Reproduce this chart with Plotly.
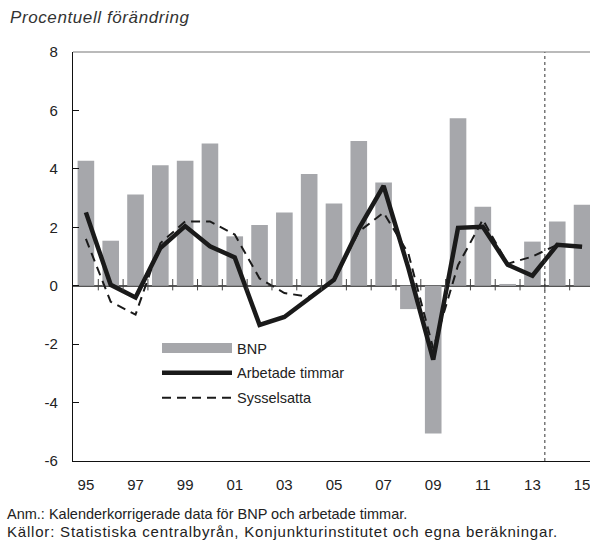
import plotly.graph_objects as go

years = list(range(1995, 2016))
tick_years = [1995, 1997, 1999, 2001, 2003, 2005, 2007, 2009, 2011, 2013, 2015]
tick_labels = ["95", "97", "99", "01", "03", "05", "07", "09", "11", "13", "15"]
y_ticks = [-6, -4, -2, 0, 2, 4, 6, 8]
y_tick_labels = ["-6", "-4", "-2", "0", "2", "4", "6", "8"]

bnp = [4.28, 1.54, 3.12, 4.12, 4.28, 4.87, 1.69, 2.08, 2.51, 3.82, 2.81,
       4.95, 3.53, -0.8, -5.06, 5.73, 2.7, 0.06, 1.51, 2.2, 2.77]
arbetade_timmar = [2.51, 0.03, -0.4, 1.29, 2.04, 1.35, 0.97, -1.34, -1.07, -0.42, 0.2,
                   1.95, 3.42, 0.6, -2.53, 1.98, 2.02, 0.72, 0.34, 1.4, 1.33]
sysselsatta = [1.6, -0.55, -0.99, 1.45, 2.2, 2.2, 1.75, 0.25, -0.25, -0.38, 0.2,
               1.85, 2.5, 1.1, -2.15, 0.7, 2.26, 0.75, 1.0, 1.4, 1.33]

forecast_start = 2013.5

FONT = "Liberation Sans Narrow, Liberation Sans, Arial, sans-serif"
BAR_COLOR = "#a6a7ab"

fig = go.Figure()
fig.add_trace(go.Bar(x=years, y=bnp, name="BNP", marker=dict(color=BAR_COLOR, line=dict(width=0)),
                     width=0.67, showlegend=False))
# legend swatch for the bars (wide rectangle as in the original)
fig.add_trace(go.Scatter(x=[None], y=[None], name="BNP", mode="lines", legendgroup="g1",
                         line=dict(color=BAR_COLOR, width=10)))
fig.add_trace(go.Scatter(x=years, y=arbetade_timmar, name="Arbetade timmar", mode="lines",
                         legendgroup="g2", line=dict(color="#1a1a1a", width=4.5)))
fig.add_trace(go.Scatter(x=years, y=sysselsatta, name="Sysselsatta", mode="lines",
                         legendgroup="g3", line=dict(color="#1a1a1a", width=2, dash="9px,6px")))

shapes = []
# small ticks crossing the zero line between years
for yr in years[:-1]:
    shapes.append(dict(type="line", xref="x", yref="y", x0=yr + 0.5, x1=yr + 0.5,
                       y0=-0.16, y1=0.23, line=dict(color="#444", width=1)))
# forecast divider
shapes.append(dict(type="line", xref="x", yref="paper", x0=forecast_start, x1=forecast_start,
                   y0=0, y1=1, line=dict(color="#333", width=1, dash="dot")))
# top frame line
shapes.append(dict(type="line", xref="paper", yref="paper", x0=0, x1=1, y0=1, y1=1,
                   line=dict(color="#777", width=1.2)))

PW, PH = 517, 409


def px(x):
    return (x - 73) / PW


def py(y):
    return (461 - y) / PH


fig.update_layout(
    width=590, height=542,
    margin=dict(l=73, r=0, t=52, b=81),
    paper_bgcolor="white", plot_bgcolor="white",
    font=dict(family=FONT, size=15, color="#222"),
    showlegend=True,
    legend=dict(x=px(157), y=py(332), xanchor="left", yanchor="top", bgcolor="rgba(0,0,0,0)",
                font=dict(family=FONT, size=14.5, color="#222"), itemwidth=70,
                tracegroupgap=3),
    xaxis=dict(range=[1994.48, 2015.32], tickvals=tick_years, ticktext=tick_labels,
               showgrid=False, zeroline=False, showline=True, linecolor="#111", linewidth=1.2,
               ticks="", ticklabelstandoff=10, automargin=False, ticklabeloverflow="allow",
               tickfont=dict(family=FONT, size=15, color="#222")),
    yaxis=dict(range=[-6, 8], tickvals=y_ticks, ticktext=y_tick_labels, showgrid=False,
               zeroline=True, zerolinecolor="#555", zerolinewidth=1.5,
               showline=True, linecolor="#111", linewidth=1.2, automargin=False,
               ticks="inside", ticklen=6, tickcolor="#111", ticklabelstandoff=11,
               tickfont=dict(family=FONT, size=15, color="#222")),
    bargap=0.33,
    shapes=shapes,
    annotations=[
        dict(text="<i><span style='letter-spacing:0.6px'>Procentuell förändring</span></i>",
             xref="paper", yref="paper",
             x=px(8), y=py(17), xanchor="left", yanchor="middle", showarrow=False,
             font=dict(family="Liberation Sans, Arial, sans-serif", size=17, color="#333")),
        dict(text="Anm.: Kalenderkorrigerade data för BNP och arbetade timmar.", xref="paper", yref="paper",
             x=px(5), y=py(514), xanchor="left", yanchor="middle", showarrow=False,
             font=dict(family=FONT, size=14.5, color="#222")),
        dict(text="<span style='letter-spacing:0.8px'>Källor: Statistiska centralbyrån, "
                  "Konjunkturinstitutet och egna beräkningar.</span>",
             xref="paper", yref="paper",
             x=px(5), y=py(531), xanchor="left", yanchor="middle", showarrow=False,
             font=dict(family=FONT, size=15, color="#222")),
    ],
)

fig.write_html("out.html", config={"displayModeBar": False},
               post_script="document.body.style.margin='0';")
